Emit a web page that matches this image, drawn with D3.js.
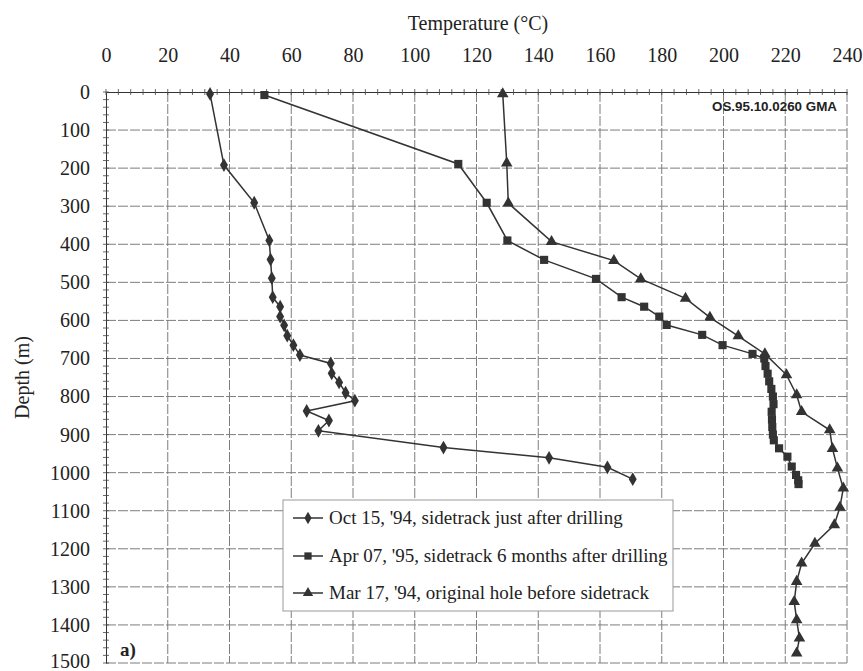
<!DOCTYPE html>
<html>
<head>
<meta charset="utf-8">
<script src="https://cdn.jsdelivr.net/npm/d3@7"></script>
<style>
  body { margin: 0; background: #fff; }
  text { font-family: "Liberation Serif", "Times New Roman", serif; fill: #222; }
</style>
</head>
<body>
<script>
const width = 863;
const height = 671;

// Oct 15 '94, sidetrack just after drilling  [depth m, temperature C]
const octDepth = [5, 192, 291, 390, 440, 489, 539, 564, 590, 613, 640, 665, 691, 713, 739, 763, 790, 811, 838, 863, 890, 934, 961, 986, 1017];
const octTemp = [33.7, 38.2, 48, 52.9, 53.3, 53.7, 54, 56.4, 56.4, 57.7, 58.7, 60.7, 62.8, 72.8, 73.1, 75.5, 77.6, 80.6, 65, 72.2, 68.8, 109.3, 143.5, 162.4, 170.6];

// Apr 07 '95, sidetrack 6 months after drilling
const aprDepth = [8, 189, 291, 390, 441, 491, 539, 564, 590, 612, 638, 665, 688, 700, 720, 740, 760, 780, 800, 820, 840, 860, 880, 900, 915, 936, 958, 984, 1006, 1020, 1030];
const aprTemp = [51.3, 114.1, 123.3, 130, 141.9, 158.7, 167, 174.3, 179.2, 181.6, 193.1, 199.7, 209.4, 213.2, 213.6, 214.3, 214.8, 215.5, 216, 216.2, 215.6, 215.7, 215.8, 216, 216.3, 218, 220.7, 222.1, 223.5, 224.2, 224.3];

// Mar 17 '94, original hole before sidetrack
const marDepth = [5, 187, 292, 393, 443, 491, 542, 592, 641, 688, 743, 796, 840, 888, 937, 988, 1041, 1091, 1137, 1186, 1238, 1286, 1339, 1387, 1435, 1474];
const marTemp = [128.5, 129.8, 130.3, 144.3, 164.5, 173.2, 187.7, 195.6, 204.8, 213.4, 220.4, 223.7, 225.3, 234.4, 235.3, 236.9, 238.8, 237.7, 235.9, 229.6, 225.3, 223.7, 222.9, 223.7, 224.6, 223.7];

const seriesNames = [
    "Oct 15, '94, sidetrack just after drilling",
    "Apr 07, '95, sidetrack 6 months after drilling",
    "Mar 17, '94, original hole before sidetrack"
];
const tempTicks = [0, 20, 40, 60, 80, 100, 120, 140, 160, 180, 200, 220, 240];
const depthTicks = [0, 100, 200, 300, 400, 500, 600, 700, 800, 900, 1000, 1100, 1200, 1300, 1400, 1500];

const plotLeft = 106, plotRight = 847, plotTop = 92, plotBottom = 663;

const svg = d3.select('body').append('svg')
    .attr('width', width)
    .attr('height', height);

const x = d3.scaleLinear().domain([0, 240]).range([plotLeft, plotRight]);
const y = d3.scaleLinear().domain([0, 1500]).range([plotTop, plotBottom]);

// grid
const grid = svg.append("g")
    .attr("stroke", "#7d7d7d")
    .attr("stroke-width", 1)
    .attr("stroke-dasharray", "10,2");

tempTicks.slice(1).forEach(t => {
    grid.append("line")
        .attr("x1", x(t)).attr("x2", x(t))
        .attr("y1", plotTop).attr("y2", plotBottom);
});
depthTicks.slice(1).forEach(d => {
    grid.append("line")
        .attr("x1", plotLeft).attr("x2", plotRight)
        .attr("y1", y(d)).attr("y2", y(d));
});

// top axis
const xAxis = d3.axisTop(x)
    .tickValues(tempTicks)
    .tickFormat(d3.format("d"))
    .tickSize(0)
    .tickPadding(30);
const gx = svg.append("g")
    .attr("transform", `translate(0,${plotTop})`)
    .call(xAxis);
gx.select(".domain").attr("stroke", "#333");
gx.selectAll("text")
    .style("font-size", "20px")
    .style("font-family", "'Liberation Serif', serif")
    .style("fill", "#222");

// left axis
const yAxis = d3.axisLeft(y)
    .tickValues(depthTicks)
    .tickFormat(d3.format("d"))
    .tickSize(0)
    .tickPadding(16);
const gy = svg.append("g")
    .attr("transform", `translate(${plotLeft},0)`)
    .call(yAxis);
gy.select(".domain").attr("stroke", "#333");
gy.selectAll("text")
    .style("font-size", "20px")
    .style("font-family", "'Liberation Serif', serif")
    .style("fill", "#222");
gy.selectAll(".tick").filter(d => d === 1500).select("text").attr("dy", "0.2em");

// minor ticks
const minor = svg.append("g").attr("stroke", "#444").attr("stroke-width", 0.8);
d3.range(0, 241, 4).forEach(t => {
    minor.append("line")
        .attr("x1", x(t)).attr("x2", x(t))
        .attr("y1", plotTop - 3).attr("y2", plotTop + 3);
});
d3.range(0, 1501, 20).forEach(d => {
    minor.append("line")
        .attr("x1", plotLeft - 3).attr("x2", plotLeft + 3)
        .attr("y1", y(d)).attr("y2", y(d));
});

// axis titles
svg.append("text")
    .attr("x", 478)
    .attr("y", 30)
    .attr("text-anchor", "middle")
    .style("font-size", "20px")
    .text("Temperature (°C)");

svg.append("text")
    .attr("transform", `translate(29,${(plotTop + plotBottom) / 2}) rotate(-90)`)
    .attr("text-anchor", "middle")
    .style("font-size", "20px")
    .text("Depth (m)");

svg.append("text")
    .attr("x", 712)
    .attr("y", 111)
    .attr("textLength", 125)
    .attr("lengthAdjust", "spacingAndGlyphs")
    .style("font-size", "13px")
    .style("font-weight", "bold")
    .style("font-family", "'Liberation Sans', Arial, sans-serif")
    .text("OS.95.10.0260 GMA");

svg.append("text")
    .attr("x", 120)
    .attr("y", 656)
    .style("font-size", "19px")
    .style("font-weight", "bold")
    .text("a)");

// series
const series = [
    { depth: octDepth, temp: octTemp, symbol: d3.symbolDiamond, size: 55 },
    { depth: aprDepth, temp: aprTemp, symbol: d3.symbolSquare, size: 66 },
    { depth: marDepth, temp: marTemp, symbol: d3.symbolTriangle, size: 58 }
];

const line = d3.line()
    .x(d => x(d[1]))
    .y(d => y(d[0]));

series.forEach(s => {
    const pts = s.depth.map((d, i) => [d, s.temp[i]]);
    svg.append("path")
        .attr("d", line(pts))
        .attr("fill", "none")
        .attr("stroke", "#333")
        .attr("stroke-width", 1.5);
    svg.append("g").selectAll("path")
        .data(pts)
        .join("path")
        .attr("transform", d => `translate(${x(d[1])},${y(d[0])})`)
        .attr("d", d3.symbol().type(s.symbol).size(s.size))
        .attr("fill", "#333");
});

// legend
const legend = svg.append("g");
legend.append("rect")
    .attr("x", 283).attr("y", 500)
    .attr("width", 390).attr("height", 111)
    .attr("fill", "#fff")
    .attr("stroke", "#999")
    .attr("stroke-width", 1);

const legendY = [518, 556, 593];
series.forEach((s, i) => {
    const ly = legendY[i];
    legend.append("line")
        .attr("x1", 293).attr("x2", 323)
        .attr("y1", ly).attr("y2", ly)
        .attr("stroke", "#333").attr("stroke-width", 1.5);
    legend.append("path")
        .attr("transform", `translate(308,${ly})`)
        .attr("d", d3.symbol().type(s.symbol).size(s.size * 0.8))
        .attr("fill", "#333");
    legend.append("text")
        .attr("x", 329)
        .attr("y", ly + 6)
        .style("font-size", "19px")
        .text(seriesNames[i]);
});
</script>
</body>
</html>
